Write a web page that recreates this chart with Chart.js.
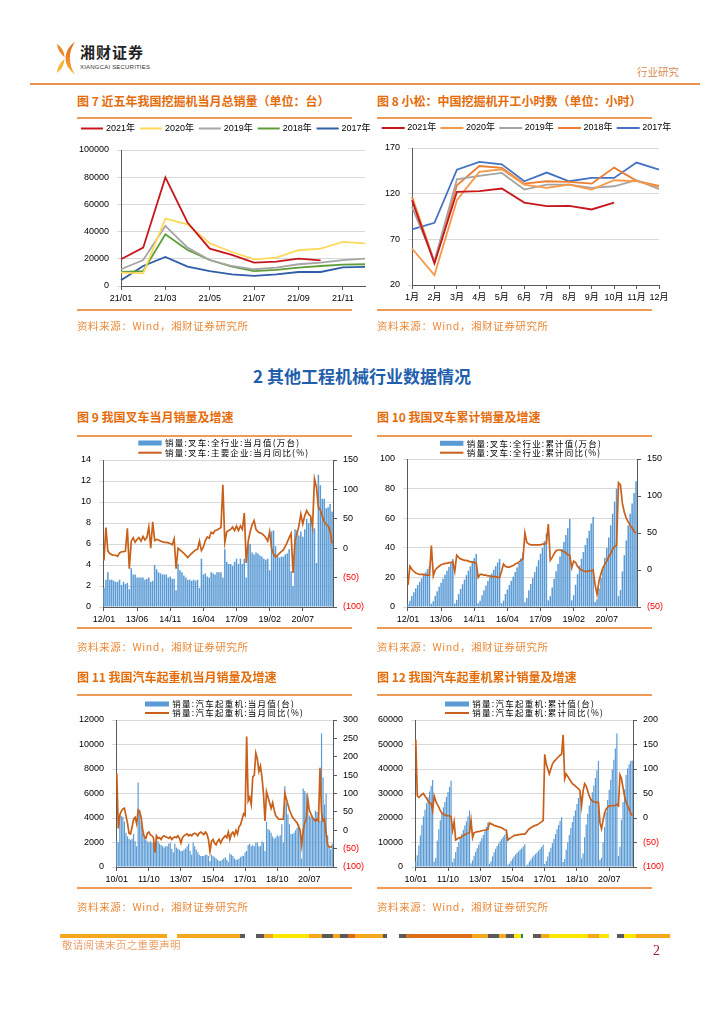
<!DOCTYPE html>
<html>
<head>
<meta charset="utf-8">
<script src="https://cdn.jsdelivr.net/npm/chart.js@4.4.0/dist/chart.umd.min.js"></script>
<style>
  body { margin: 0; background: #fff; }
  #page { position: relative; width: 724px; height: 1024px; overflow: hidden; background: #fff;
          font-family: "Noto Sans CJK SC", sans-serif; }
  .title { position: absolute; color: #E46C0A; font-weight: bold; font-size: 12px; line-height: 12px; white-space: nowrap; }
  .rule { position: absolute; height: 2px; width: 275px; background: #EF9B55; }
  .src { position: absolute; color: #E98A3A; font-size: 10.5px; line-height: 10.5px; letter-spacing: 0.6px; white-space: nowrap; }
  .seg { position: absolute; top: 934px; height: 3.5px; }
  canvas { position: absolute; }
</style>
</head>
<body>
<div id="page">
  <!-- header -->
  <svg style="position:absolute;left:55px;top:39px" width="21" height="38" viewBox="0 0 24 38">
    <defs>
      <linearGradient id="lg" x1="0" y1="0" x2="0" y2="1">
        <stop offset="0" stop-color="#DE6A1E"/><stop offset="0.55" stop-color="#EE8A28"/><stop offset="1" stop-color="#F7B52C"/>
      </linearGradient>
    </defs>
    <path d="M2,3 Q10,7 11,18 Q4,13 2,3 Z" fill="#EC8A2E"/>
    <path d="M23,0 Q12,8 12,19 Q12,30 23,38 Q17,29 17,19 Q17,9 23,0 Z" fill="url(#lg)"/>
    <path d="M2,36 Q10,31 11,20 Q4,25 2,36 Z" fill="#F7B52C"/>
  </svg>
  <div style="position:absolute;left:80px;top:44px;font-size:15px;line-height:15px;font-weight:bold;color:#222;letter-spacing:1px">湘财证券</div>
  <div style="position:absolute;left:80px;top:63.5px;font-family:'Liberation Sans Narrow','Liberation Sans',sans-serif;font-size:6px;line-height:6px;color:#333;white-space:nowrap;letter-spacing:0.2px">XIANGCAI SECURITIES</div>
  <div style="position:absolute;left:637px;top:67px;font-size:10.5px;line-height:10.5px;color:#D98C54">行业研究</div>
  <div style="position:absolute;left:30px;top:83px;width:670px;height:2px;background:#E8924E"></div>

  <!-- section 1 -->
  <div class="title" style="left:77px;top:95px">图 7 近五年我国挖掘机当月总销量（单位：台）</div>
  <div class="rule" style="left:77px;top:117px"></div>
  <canvas id="c7" width="302" height="190" style="left:70px;top:120px"></canvas>
  <div class="rule" style="left:77px;top:309px"></div>
  <div class="src" style="left:77px;top:321px">资料来源：Wind，湘财证券研究所</div>

  <div class="title" style="left:377px;top:95px">图 8 小松：中国挖掘机开工小时数（单位：小时）</div>
  <div class="rule" style="left:377px;top:117px"></div>
  <canvas id="c8" width="340" height="190" style="left:372px;top:120px"></canvas>
  <div class="rule" style="left:377px;top:309px"></div>
  <div class="src" style="left:377px;top:321px">资料来源：Wind，湘财证券研究所</div>

  <div style="position:absolute;left:0;top:367px;width:724px;text-align:center;font-size:17px;line-height:17px;font-weight:bold;color:#1F5FAD">2 其他工程机械行业数据情况</div>

  <!-- section 2 -->
  <div class="title" style="left:77px;top:411px">图 9 我国叉车当月销量及增速</div>
  <div class="rule" style="left:77px;top:434.5px"></div>
  <canvas id="c9" width="300" height="192" style="left:75px;top:436px"></canvas>
  <div class="rule" style="left:77px;top:627px"></div>
  <div class="src" style="left:77px;top:641.5px">资料来源：Wind，湘财证券研究所</div>

  <div class="title" style="left:377px;top:411px">图 10 我国叉车累计销量及增速</div>
  <div class="rule" style="left:377px;top:434.5px"></div>
  <canvas id="c10" width="300" height="192" style="left:375px;top:436px"></canvas>
  <div class="rule" style="left:377px;top:627px"></div>
  <div class="src" style="left:377px;top:641.5px">资料来源：Wind，湘财证券研究所</div>

  <div class="title" style="left:77px;top:671px">图 11 我国汽车起重机当月销量及增速</div>
  <div class="rule" style="left:77px;top:694px"></div>
  <canvas id="c11" width="300" height="192" style="left:75px;top:696px"></canvas>
  <div class="rule" style="left:77px;top:887px"></div>
  <div class="src" style="left:77px;top:901.5px">资料来源：Wind，湘财证券研究所</div>

  <div class="title" style="left:377px;top:671px">图 12 我国汽车起重机累计销量及增速</div>
  <div class="rule" style="left:377px;top:694px"></div>
  <canvas id="c12" width="300" height="192" style="left:375px;top:696px"></canvas>
  <div class="rule" style="left:377px;top:887px"></div>
  <div class="src" style="left:377px;top:901.5px">资料来源：Wind，湘财证券研究所</div>

  <!-- footer -->
  <div id="footbar"></div>
  <div style="position:absolute;left:62px;top:940px;font-size:10.5px;line-height:10.5px;color:#E9A06A;letter-spacing:0.3px">敬请阅读末页之重要声明</div>
  <div style="position:absolute;left:653px;top:944px;font-family:'Liberation Serif',serif;font-size:14px;line-height:14px;color:#9B1B30">2</div>
</div>

<script>
// ---------- data: excavators (fig 7) ----------
const digMonths = ['21/01', '21/02', '21/03', '21/04', '21/05', '21/06', '21/07', '21/08', '21/09', '21/10', '21/11', '21/12'];
const digShown = ['21/01', '21/03', '21/05', '21/07', '21/09', '21/11'];
const dig2021 = [19700, 28200, 79800, 46700, 27500, 22900, 17200, 17900, 20100, 18900];
const dig2020 = [9800, 9300, 49600, 45400, 31400, 25000, 19600, 20900, 26300, 27500, 32400, 31400];
const dig2019 = [12300, 19100, 44200, 28200, 19100, 14700, 12300, 13500, 16000, 17200, 19100, 20100];
const dig2018 = [10300, 11000, 38100, 26500, 19100, 14200, 11000, 11800, 13500, 14700, 15700, 16000];
const dig2017 = [4200, 14700, 21400, 14200, 11000, 8600, 7400, 8600, 10300, 10300, 13700, 14000];

// ---------- data: Komatsu working hours (fig 8) ----------
const hourMonths = ['1月', '2月', '3月', '4月', '5月', '6月', '7月', '8月', '9月', '10月', '11月', '12月'];
const hour2021 = [112.8, 43.7, 122, 122.7, 125.6, 110.3, 106.3, 106.7, 102.7, 110.3];
const hour2020 = [60, 30.9, 112.8, 143.8, 146.7, 130, 126.3, 130, 124.5, 134.7, 133.6, 127.4];
const hour2019 = [105.6, 46.2, 135.8, 139.4, 142.7, 124.5, 130, 130, 126.3, 128.1, 134.7, 124.9];
const hour2018 = [116.5, 45.5, 129.2, 150.3, 148.2, 131, 133.6, 132.9, 131, 148.5, 134, 128.5];
const hour2017 = [80.8, 88.1, 146.3, 154.7, 152.2, 133.6, 143.1, 133.6, 137.2, 137.2, 154, 146.3];

// ---------- data: forklifts 2012/01 - 2021/10 (figs 9, 10) ----------
const forkliftTicks = ['12/01', '13/06', '14/11', '16/04', '17/09', '19/02', '20/07'];
const forkliftMonthly = [ // 万台
  1.8, 2.6, 3.3, 2.6, 2.6, 2.5, 2.4, 2.4, 2.6, 2.1, 2.4, 2.2,
  2.3, 1.7, 3.7, 3.1, 3.1, 2.8, 2.8, 2.8, 2.8, 2.6, 2.7, 2.8,
  2.4, 2.5, 4.0, 3.6, 3.3, 3.2, 3.1, 3.1, 3.1, 2.8, 2.9, 2.7,
  2.7, 1.6, 4.1, 3.5, 3.3, 3.0, 2.8, 2.6, 2.6, 2.5, 2.6, 2.5,
  2.6, 1.8, 4.6, 3.1, 3.2, 2.9, 2.8, 3.3, 3.2, 3.1, 3.3, 3.3,
  3.3, 2.8, 5.5, 4.3, 4.1, 4.1, 3.9, 4.3, 4.6, 4.1, 4.6, 4.1,
  4.6, 2.8, 6.0, 6.0, 5.2, 5.0, 5.2, 5.1, 4.9, 4.8, 4.6, 4.5,
  4.6, 3.5, 7.2, 7.3, 5.8, 4.9, 4.7, 4.8, 4.8, 5.0, 5.1, 5.5,
  3.4, 2.0, 7.4, 7.3, 6.8, 7.2, 6.7, 7.4, 8.4, 8.0, 8.5, 7.5,
  7.5, 4.2, 12.6, 11.6, 10.3, 10.3, 9.4, 9.5, 9.8, 9.1
];
const forkliftMonthlyYoy = [ // %
  -21, 35, -5, -9, -11, -12, -12, -14, -8, -6, -6, -5,
  34, -35, 12, 18, 10, 15, 18, 12, 20, 14, 18, 36,
  0, 45, 13, 15, 14, 12, 11, 10, 10, 9, 8, 6,
  16, -35, 0, -3, -6, -9, -12, -16, -12, -9, -6, -3,
  -2, 12, -4, 2, 13, 19, 17, 27, 25, 30, 31, 33,
  35, 108, 10, 28, 30, 32, 36, 30, 38, 30, 38, 32,
  60, -25, 12, 28, 40, 47, 32, 28, 26, 25, 22, 18,
  12, 28, 0, -10, -15, -12, -9, -6, -3, 3, 10, 18,
  25, -42, 13, 24, 38, 58, 41, 55, 64, 58, 55, 36,
  118, 104, 70, 65, 55, 45, 40, 38, 30, 8
];
const forkliftCum = [ // 万台
  1.8, 4.3, 7.5, 10.0, 12.5, 14.8, 17.0, 19.3, 21.6, 23.5, 25.6, 27.5,
  2.2, 3.9, 7.6, 10.6, 13.6, 16.4, 19.1, 21.8, 24.5, 27.0, 29.6, 32.5,
  2.3, 4.8, 8.7, 12.2, 15.4, 18.5, 21.5, 24.5, 27.5, 30.2, 33.0, 35.8,
  2.6, 4.2, 8.0, 11.4, 14.6, 17.5, 20.2, 22.7, 25.2, 27.6, 30.1, 32.6,
  2.5, 4.3, 8.8, 11.8, 14.9, 17.7, 20.4, 23.6, 26.7, 29.7, 32.9, 37.0,
  3.2, 6.0, 11.4, 15.6, 19.6, 23.6, 27.4, 31.6, 36.0, 40.0, 44.5, 49.7,
  4.5, 7.3, 13.2, 19.1, 24.2, 29.1, 34.2, 39.2, 44.0, 48.7, 53.2, 59.5,
  4.5, 8.0, 15.0, 22.1, 27.8, 32.6, 37.2, 41.9, 46.6, 51.5, 56.4, 60.8,
  3.3, 5.3, 12.5, 19.6, 26.2, 33.3, 39.8, 47.0, 55.2, 63.0, 71.2, 80.0,
  7.3, 11.5, 24.0, 35.0, 45.0, 55.0, 63.0, 70.0, 77.0, 85.0
];
const forkliftCumYoy = [ // %
  -20, 5, 1, -2, -4, -5, -6, -6, -6, -7, -7, -7,
  33, -8, 0, 3, 5, 7, 8, 9, 9, 10, 10, 11,
  -2, 20, 17, 15, 14, 13, 13, 12, 11, 11, 10, 10,
  -10, -6, -6, -7, -7, -8, -8, -9, -9, -9, -10, -10,
  -2, 8, 5, 4, 4, 5, 6, 8, 9, 11, 13, 15,
  50, 37, 35, 34, 34, 34, 34, 34, 34, 35, 35, 36,
  62, 13, 17, 22, 26, 27, 27, 26, 25, 23, 21, 20,
  3, 12, 10, 5, 2, 0, -1, -2, -2, -1, -1, 0,
  -20, -33, -15, -5, 3, 8, 12, 18, 22, 28, 32, 33,
  118, 115, 90, 78, 70, 65, 60, 57, 52, 50
];

// ---------- data: truck cranes 2010/01 - 2021/10 (figs 11, 12) ----------
const craneTicks = ['10/01', '11/10', '13/07', '15/04', '17/01', '18/10', '20/07'];
const craneMonthly = [ // 台
  2100, 2000, 4200, 4150, 4100, 3700, 2800, 2500, 2300, 2200, 2300, 2700,
  2100, 1700, 6900, 4700, 3700, 2800, 2400, 2200, 2100, 2000, 2100, 2000,
  2000, 1500, 2600, 2100, 1900, 1800, 1700, 1600, 1700, 1700, 1900, 2000,
  1500, 1200, 1900, 1600, 1500, 1400, 1300, 1300, 1400, 1500, 1700, 1900,
  1300, 1000, 2000, 1700, 1400, 1200, 1000, 900, 900, 900, 1000, 1000,
  900, 500, 1000, 900, 800, 700, 600, 500, 500, 600, 700, 800,
  600, 400, 1100, 1000, 900, 700, 600, 600, 700, 800, 900, 900,
  1200, 1300, 1800, 1900, 1700, 1800, 1700, 2000, 2000, 1700, 1700, 2100,
  2000, 1300, 3700, 3100, 3000, 2800, 2500, 2300, 2400, 2600, 2500, 2600,
  3500, 2000, 6600, 5200, 4300, 3500, 2700, 2700, 2800, 3000, 3200, 3500,
  3000, 700, 6400, 6200, 6000, 5000, 4200, 4100, 4200, 4000, 4600, 4500,
  4500, 3800, 10900, 7300, 5100, 6000, 2600, 1700, 1400, 1900
];
const craneMonthlyYoy = [ // %
  155, 5, 42, 52, 58, 60, 40, 20, -8, -10, 8, 30,
  35, 18, 55, 50, 35, 0, -18, -22, -8, -5, -12, -15,
  -20, -60, -15, -22, -20, -25, -18, -15, -18, -20, -22, -18,
  -25, -20, -18, -20, -15, -22, -35, -20, -15, -12, -10, -15,
  -12, -15, -10, -8, -10, -15, -8, -5, -8, -12, -5, -10,
  -25, -58, -30, -25, -35, -40, -30, -25, -35, -25, -20, -15,
  -20, -5, -25, -10, -5, -15, 0, -10, 10, 15, 30, 45,
  40, 255, 80, 90, 70, 145, 150, 210, 195, 160, 175, 145,
  100, 25, 105, 90, 75, 60, 75, 55, 40, 35, 30, 30,
  30, 30, 100, 85, 70, 55, 45, 35, 30, 25, 20, 10,
  0, -40, 0, 20, 30, 85, 55, 45, 35, 30, 25, 30,
  25, 170, 50, 25, 30, -10, -40, -45, -45, -45
];
const craneCum = [ // 台
  2100, 4800, 8800, 12900, 17000, 20600, 23400, 26000, 28500, 30800, 33100, 35500,
  2100, 3800, 10700, 15400, 19100, 21900, 24300, 26500, 28600, 30600, 32700, 35200,
  2000, 3500, 6100, 8200, 10100, 11900, 13600, 15200, 16900, 18600, 20600, 23000,
  1500, 2700, 4600, 6200, 7700, 9100, 10400, 11700, 13100, 14600, 16300, 18200,
  1300, 2300, 4300, 6000, 7400, 8600, 9600, 10500, 11400, 12300, 13300, 14300,
  900, 1400, 2500, 3400, 4300, 5100, 5800, 6400, 7000, 7700, 8400, 9300,
  600, 1000, 2100, 3100, 4000, 4700, 5300, 5900, 6600, 7400, 8200, 9100,
  1200, 2500, 4300, 6200, 7900, 9700, 11400, 13400, 15400, 17100, 18800, 20300,
  2000, 3300, 7000, 10100, 13100, 15900, 18400, 20700, 23100, 25700, 28200, 30500,
  3500, 5500, 12100, 17300, 21600, 25100, 27800, 30500, 33300, 36300, 39500, 43300,
  3000, 3700, 10100, 16300, 22300, 27300, 31500, 35600, 39800, 43800, 48400, 54500,
  4500, 8300, 19200, 26500, 31600, 37600, 40200, 41900, 43300, 43500
];
const craneCumYoy = [ // %
  160, 45, 42, 45, 48, 50, 45, 40, 35, 30, 30, 15,
  45, 35, 28, 22, 15, 10, 8, 6, 5, 5, 4, 3,
  -25, -8, -45, -43, -41, -40, -38, -36, -34, -32, -31, -30,
  -5, -40, -30, -29, -28, -28, -27, -26, -25, -25, -24, -23,
  -10, -12, -13, -15, -16, -17, -18, -19, -20, -22, -24, -25,
  -45, -42, -40, -38, -36, -35, -35, -34, -34, -33, -33, -33,
  -30, -25, -22, -20, -18, -16, -15, -14, -12, -10, -8, -5,
  130, 110, 100, 90, 100, 110, 115, 118, 122, 125, 128, 130,
  170, 80, 90, 85, 80, 75, 70, 68, 65, 62, 60, 55,
  25, 55, 70, 65, 55, 45, 38, 35, 33, 32, 32, 32,
  -10, -22, -5, 10, 18, 22, 25, 25, 25, 25, 26, 28,
  25, 88, 80, 62, 45, 32, 25, 18, 10, 5
];

// ---------- footer colour strip ----------
const footSegs = [
  [60, 106.5, '#F5A81C'],
  [177, 63, '#F5A81C'], [240, 4.6, '#5A5A5A'],
  [256, 8, '#5A5A5A'], [264, 8.5, '#F5A81C'], [272.5, 36.5, '#FFE600'], [309, 13, '#F5A81C'],
  [322, 10.6, '#5A5A5A'], [332.6, 7.4, '#F5A81C'], [340, 7.6, '#5A5A5A'], [347.6, 7.4, '#E06A1A'],
  [355, 28, '#F5A81C'], [383, 4, '#5A5A5A'],
  [399, 7, '#5A5A5A'], [406, 66, '#DD6F1B'], [472, 16, '#F5A81C'], [488, 10.7, '#5A5A5A'],
  [498.7, 6.9, '#F5A81C'], [505.6, 8.4, '#5A5A5A'], [514, 7, '#FFE600'], [521, 1.5, '#2A7A6A'],
  [533, 8, '#5A5A5A'], [541, 8, '#F5A81C'], [549, 39, '#FFE600'], [588, 11, '#F5A81C'], [599, 10, '#FFE600'],
  [617, 7, '#5A5A5A'], [624, 12, '#FFE600'], [636, 33.5, '#F5A81C']
];
const footbar = document.getElementById('footbar');
footSegs.forEach(([x, w, c]) => {
  const d = document.createElement('div');
  d.className = 'seg';
  d.style.left = x + 'px';
  d.style.width = w + 'px';
  d.style.background = c;
  footbar.appendChild(d);
});

// ---------- chart helpers ----------
const tickFont = { family: '"Liberation Sans", Arial, sans-serif', size: 9 };
const monthFont = { family: '"Liberation Sans", "Noto Sans CJK SC", sans-serif', size: 9 };
const axisGrey = '#595959';
Chart.defaults.color = '#000';
Chart.defaults.font.family = '"Liberation Sans", Arial, sans-serif';

// legend drawn at fixed spots, one item per dataset
const sketchLegend = {
  id: 'sketchLegend',
  afterDraw(chart, args, o) {
    if (!o || !o.font) return;
    const ctx = chart.ctx;
    ctx.save();
    ctx.font = o.font;
    if ('letterSpacing' in ctx) ctx.letterSpacing = (o.ls || 0) + 'px';
    ctx.textBaseline = 'middle';
    chart.data.datasets.forEach((ds, i) => {
      const x = o.x + i * (o.dx || 0);
      const y = o.y + i * (o.dy || 0);
      if ((ds.type || chart.config.type) === 'bar') {
        ctx.fillStyle = ds.backgroundColor;
        ctx.fillRect(x, y - o.boxH / 2, o.boxW, o.boxH);
      } else {
        ctx.strokeStyle = ds.borderColor;
        ctx.lineWidth = 2;
        ctx.beginPath();
        ctx.moveTo(x, y);
        ctx.lineTo(x + o.boxW, y);
        ctx.stroke();
      }
      ctx.fillStyle = '#000';
      ctx.fillText(ds.label, x + o.boxW + o.gap, y);
    });
    ctx.restore();
  }
};
Chart.register(sketchLegend);

function monthCats(startYear, count) {
  const out = [];
  for (let i = 0; i < count; i++) {
    const y = startYear + Math.floor(i / 12);
    const m = (i % 12) + 1;
    out.push(String(y).slice(2) + '/' + String(m).padStart(2, '0'));
  }
  return out;
}

function yearLines(id, cats, shown, sets, yAxis, geo) {
  return new Chart(document.getElementById(id), {
    type: 'line',
    data: {
      labels: cats,
      datasets: sets.map(s => ({
        label: s.label, data: s.data, borderColor: s.color, borderWidth: 1.8,
        pointRadius: 0, tension: 0, fill: false
      }))
    },
    options: {
      responsive: false, animation: false,
      layout: { padding: geo.pad },
      plugins: {
        legend: { display: false }, tooltip: { enabled: false },
        sketchLegend: geo.legend
      },
      scales: {
        x: {
          offset: false,
          ticks: {
            autoSkip: false, maxRotation: 0, font: monthFont, color: '#000', padding: 3,
            callback(v) { const l = this.getLabelForValue(v); return shown.includes(l) ? l : null; }
          },
          grid: { drawOnChartArea: false, tickLength: 4, color: axisGrey },
          border: { color: axisGrey },
          afterFit(s) { s.height = geo.xH; }
        },
        y: {
          min: yAxis.min, max: yAxis.max,
          ticks: { stepSize: yAxis.step, font: tickFont, color: '#000', padding: 8, callback: v => String(v) },
          grid: { color: '#D9D9D9', tickLength: 4 },
          border: { color: axisGrey },
          afterFit(s) { s.width = geo.yW; }
        }
      }
    }
  });
}

function combo(id, cats, shown, bars, line, labels, left, right, geo) {
  return new Chart(document.getElementById(id), {
    type: 'bar',
    data: {
      labels: cats,
      datasets: [
        { label: labels[0], data: bars, backgroundColor: '#5B9BD5', barPercentage: 0.78, categoryPercentage: 1,
          yAxisID: 'y', order: 1 },
        { type: 'line', label: labels[1], data: line, borderColor: '#C8601A', borderWidth: 1.7,
          pointRadius: 0, tension: 0, yAxisID: 'y1', order: 0 }
      ]
    },
    options: {
      responsive: false, animation: false,
      layout: { padding: geo.pad },
      plugins: {
        legend: { display: false }, tooltip: { enabled: false },
        sketchLegend: geo.legend
      },
      scales: {
        x: {
          ticks: {
            autoSkip: false, maxRotation: 0, font: tickFont, color: '#000', padding: 3,
            callback(v) { const l = this.getLabelForValue(v); return shown.includes(l) ? l : null; }
          },
          grid: { offset: false, drawOnChartArea: false, tickLength: 4, color: axisGrey },
          border: { color: axisGrey },
          afterFit(s) { s.height = geo.xH; }
        },
        y: {
          position: 'left', min: left.min, max: left.max,
          ticks: { stepSize: left.step, font: tickFont, color: '#000', padding: 8, callback: v => String(v) },
          grid: { color: '#D9D9D9', tickLength: 4 },
          border: { color: axisGrey },
          afterFit(s) { s.width = geo.yW; }
        },
        y1: {
          position: 'right', min: right.min, max: right.max,
          ticks: {
            stepSize: right.step, font: tickFont, padding: 6,
            color: c => (c.tick && c.tick.value < 0 ? '#FF0000' : '#000'),
            callback: v => (v < 0 ? '(' + (-v) + ')' : String(v))
          },
          grid: { drawOnChartArea: false, tickLength: 4, color: axisGrey },
          border: { color: axisGrey },
          afterFit(s) { s.width = geo.y1W; }
        }
      }
    }
  });
}

// ---------- fig 7 ----------
yearLines('c7', digMonths, digShown, [
  { label: '2021年', data: dig2021, color: '#C8161D' },
  { label: '2020年', data: dig2020, color: '#FFD95A' },
  { label: '2019年', data: dig2019, color: '#A5A5A5' },
  { label: '2018年', data: dig2018, color: '#5E9E3A' },
  { label: '2017年', data: dig2017, color: '#2F5DAA' }
], { min: 0, max: 100000, step: 20000 }, {
  pad: { top: 30, right: 7, left: 0, bottom: 0 }, xH: 24, yW: 51,
  legend: { font: '9px "Liberation Sans", "Noto Sans CJK SC"', x: 11, y: 8.5, dx: 58.9, boxW: 22, boxH: 2, gap: 3 }
});

// ---------- fig 8 ----------
yearLines('c8', hourMonths, hourMonths, [
  { label: '2021年', data: hour2021, color: '#C8161D' },
  { label: '2020年', data: hour2020, color: '#F59A4A' },
  { label: '2019年', data: hour2019, color: '#A5A5A5' },
  { label: '2018年', data: hour2018, color: '#ED7D31' },
  { label: '2017年', data: hour2017, color: '#4472C4' }
], { min: 20, max: 170, step: 50 }, {
  pad: { top: 28, right: 53, left: 0, bottom: 0 }, xH: 25, yW: 40,
  legend: { font: '9px "Liberation Sans", "Noto Sans CJK SC"', x: 9.7, y: 8, dx: 58.75, boxW: 23, boxH: 2, gap: 2.5 }
});

// ---------- figs 9 - 12 ----------
const forkCats = monthCats(2012, forkliftMonthly.length);
const craneCats = monthCats(2010, craneMonthly.length);
const legFont = '8.5px "Noto Sans CJK SC", sans-serif';

combo('c9', forkCats, forkliftTicks, forkliftMonthly, forkliftMonthlyYoy,
  ['销量:叉车:全行业:当月值(万台)', '销量:叉车:主要企业:当月同比(%)'],
  { min: 0, max: 14, step: 2 }, { min: -100, max: 150, step: 50 },
  { pad: { top: 24, right: 5, left: 0, bottom: 0 }, xH: 21, yW: 28, y1W: 37,
    legend: { font: legFont, ls: 1.2, x: 63.3, y: 7, dy: 9.7, boxW: 23.4, boxH: 5, gap: 3.3 } });

combo('c10', forkCats, forkliftTicks, forkliftCum, forkliftCumYoy,
  ['销量:叉车:全行业:累计值(万台)', '销量:叉车:全行业:累计同比(%)'],
  { min: 0, max: 100, step: 20 }, { min: -50, max: 150, step: 50 },
  { pad: { top: 23, right: 4, left: 0, bottom: 0 }, xH: 21, yW: 32, y1W: 34,
    legend: { font: legFont, ls: 1.2, x: 65, y: 7.3, dy: 9.4, boxW: 23.4, boxH: 5, gap: 3.4 } });

combo('c11', craneCats, craneTicks, craneMonthly, craneMonthlyYoy,
  ['销量:汽车起重机:当月值(台)', '销量:汽车起重机:当月同比(%)'],
  { min: 0, max: 12000, step: 2000 }, { min: -100, max: 300, step: 50 },
  { pad: { top: 24, right: 5, left: 0, bottom: 0 }, xH: 21, yW: 41, y1W: 37,
    legend: { font: legFont, ls: 1.25, x: 70, y: 8, dy: 9, boxW: 24, boxH: 5, gap: 3.3 } });

combo('c12', craneCats, craneTicks, craneCum, craneCumYoy,
  ['销量:汽车起重机:累计值(台)', '销量:汽车起重机:累计同比(%)'],
  { min: 0, max: 60000, step: 10000 }, { min: -100, max: 200, step: 50 },
  { pad: { top: 24, right: 5, left: 0, bottom: 0 }, xH: 21, yW: 40, y1W: 37,
    legend: { font: legFont, ls: 1.25, x: 70, y: 8, dy: 9, boxW: 24, boxH: 5, gap: 3.3 } });
</script>
</body>
</html>
